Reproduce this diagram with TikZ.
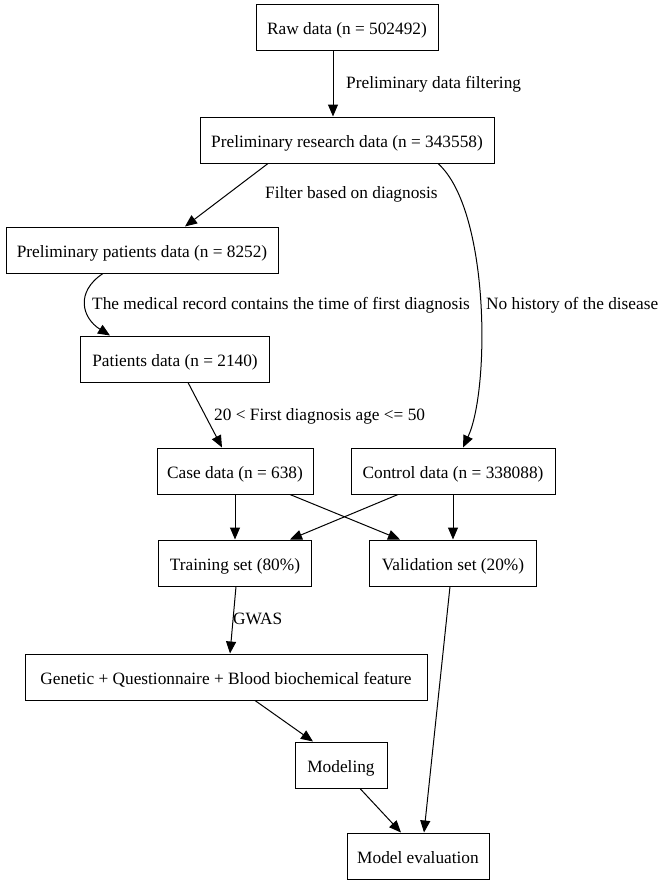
\documentclass[tikz,border=0pt]{standalone}
\usepackage{fontspec}
\setmainfont{Liberation Serif}
\usetikzlibrary{arrows.meta}

\tikzset{
  databox/.style={draw, rectangle, line width=1pt, minimum height=46pt, inner sep=2pt,
    text height=15pt, text depth=1pt},
  flowedge/.style={line width=1pt, -{Triangle[length=12pt,width=10pt]}},
  edgelabel/.style={anchor=west, inner sep=0pt, yshift=-1.5pt}
}

\begin{document}
\begin{tikzpicture}[x=1pt,y=-1pt,font=\fontsize{17.3}{20}\selectfont]
  \useasboundingbox (0,0) rectangle (663,884);
  % data boxes
  \node[databox, minimum width=182pt] (raw)       at (347,27)  {Raw data (n = 502492)};
  \node[databox, minimum width=294pt] (presearch) at (347,140) {Preliminary research data (n = 343558)};
  \node[databox, minimum width=272pt] (ppatients) at (142,250) {Preliminary patients data (n = 8252)};
  \node[databox, minimum width=189pt] (patients)  at (175,359) {Patients data (n = 2140)};
  \node[databox, minimum width=156pt] (case)      at (235,471) {Case data (n = 638)};
  \node[databox, minimum width=204pt] (control)   at (453,471) {Control data (n = 338088)};
  \node[databox, minimum width=153pt] (training)  at (235,563) {Training set (80\%)};
  \node[databox, minimum width=167pt] (valid)     at (453,563) {Validation set (20\%)};
  \node[databox, minimum width=402pt] (features)  at (226,677) {Genetic + Questionnaire + Blood biochemical feature};
  \node[databox, minimum width=92pt]  (modeling)  at (341,765) {Modeling};
  \node[databox, minimum width=142pt] (evaluation) at (418,856) {Model evaluation};

  % filtering steps
  \draw[flowedge] ([xshift=-14]raw.south) -- ([xshift=-14]presearch.north);
  \node[edgelabel] (lblfilter) at (346,83) {Preliminary data filtering};
  \draw[flowedge] ([xshift=-79]presearch.south) -- ([xshift=43]ppatients.north);
  \node[edgelabel] (lbldiag) at (265,193) {Filter based on diagnosis};
  \draw[flowedge] ([xshift=91]presearch.south) .. controls (490,210) and (490,390) .. ([xshift=10]control.north);
  \node[edgelabel] (lblhistory) at (486,304) {No history of the disease};
  \draw[flowedge] ([xshift=-39]ppatients.south) .. controls (75,292) and (82,318) .. ([xshift=-65]patients.north);
  \node[edgelabel] (lblrecord) at (92,304) {The medical record contains the time of first diagnosis};
  \draw[flowedge] ([xshift=13]patients.south) -- ([xshift=-13]case.north);
  \node[edgelabel] (lblage) at (214,415) {20 < First diagnosis age <= 50};

  % split into training and validation
  \draw[flowedge] (case.south) -- (training.north);
  \draw[flowedge] ([xshift=55]case.south) -- ([xshift=-53]valid.north);
  \draw[flowedge] ([xshift=-55]control.south) -- ([xshift=55]training.north);
  \draw[flowedge] (control.south) -- (valid.north);

  % modeling
  \draw[flowedge] ([xshift=1]training.south) -- ([xshift=4]features.north);
  \node[edgelabel] (lblgwas) at (233,617) {GWAS};
  \draw[flowedge] ([xshift=-3]valid.south) -- ([xshift=6]evaluation.north);
  \draw[flowedge] ([xshift=29]features.south) -- ([xshift=-28]modeling.north);
  \draw[flowedge] ([xshift=19]modeling.south) -- ([xshift=-17]evaluation.north);
\end{tikzpicture}
\end{document}
